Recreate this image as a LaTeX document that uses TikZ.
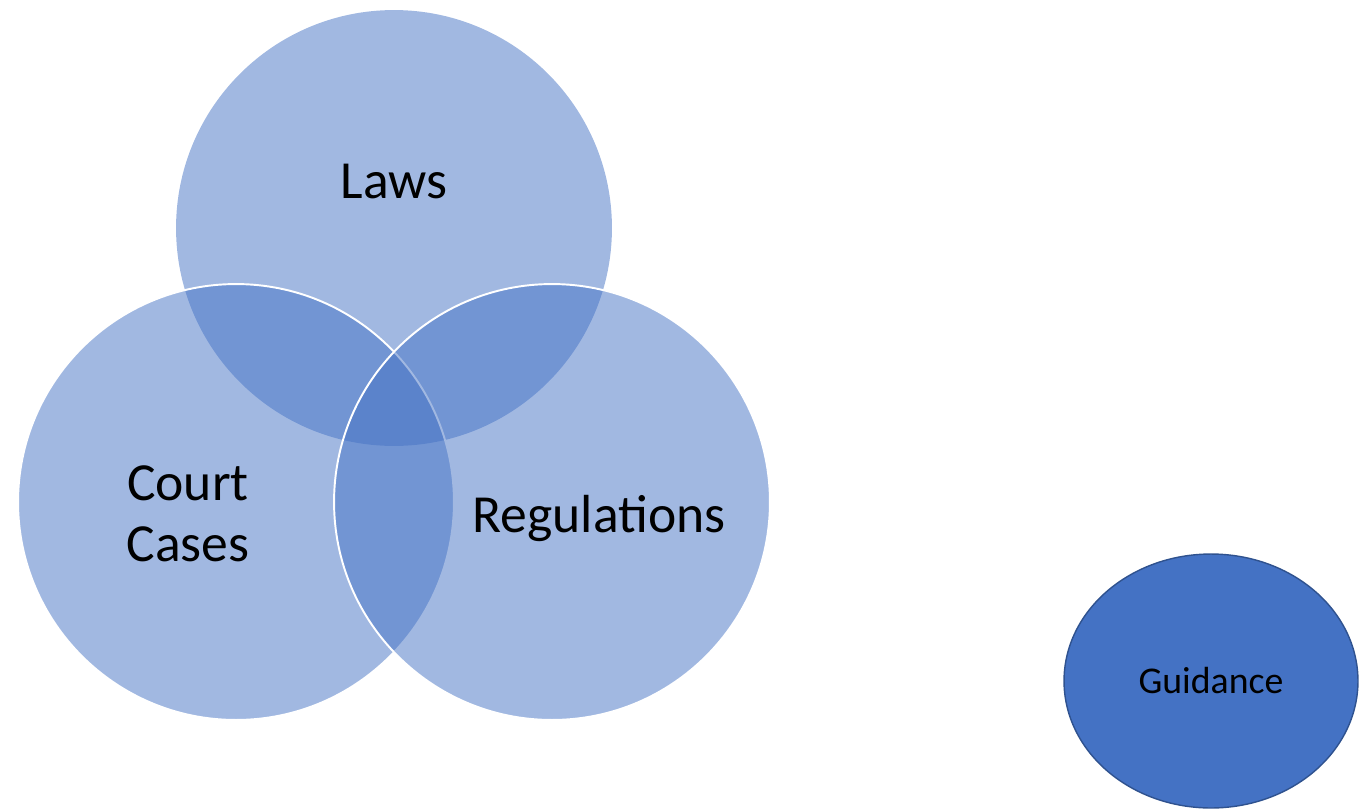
\documentclass[tikz,border=0pt]{standalone}
\usepackage{fontspec}
\setmainfont{Carlito}
\usepackage{xcolor}
\usepackage{tikz}
\usetikzlibrary{shapes.geometric}

\definecolor{vennblue}{HTML}{4472C4}
\definecolor{guideedge}{HTML}{2F528F}

\begin{document}
\begin{tikzpicture}[x=0.02cm, y=-0.02cm,
    vennset/.style={circle, inner sep=0pt, minimum size=8.72cm,
      fill=vennblue, fill opacity=0.5},
    vennedge/.style={draw=white, line width=1.1pt},
    bigtext/.style={font=\fontsize{30.5}{35}\selectfont, text=black, inner sep=0pt}]
    \useasboundingbox (0, 0) rectangle (1366, 809);

    % Draw the three sets
    \node[vennset] (laws) at (394, 228) {};
    \node[vennset, vennedge] (court) at (236, 502) {};
    \node[vennset, vennedge] (regs) at (552, 502) {};

    % Draw set labels
    \node[bigtext, anchor=base] (lawslabel) at (394, 198) {Laws};
    \node[bigtext, align=center] (courtlabel) at (188, 514) {Court\\Cases};
    \node[bigtext, anchor=base] (regslabel) at (599, 532) {Regulations};

    % Draw guidance
    \node[ellipse, draw=guideedge, line width=0.8pt, fill=vennblue,
      minimum width=5.88cm, minimum height=5.08cm, inner sep=0pt,
      font=\fontsize{21.5}{24}\selectfont] (guide) at (1211, 681) {Guidance};
\end{tikzpicture}
\end{document}
